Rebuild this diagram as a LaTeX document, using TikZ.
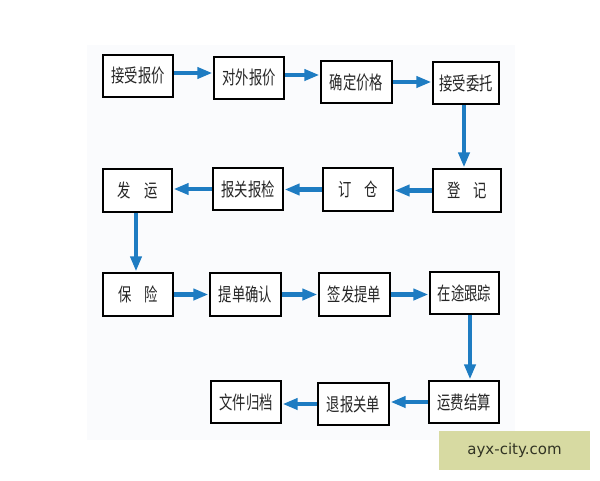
\documentclass[tikz,border=0pt]{standalone}
\usepackage{fontspec}
\newfontfamily\cjk{Noto Sans CJK SC}
\setsansfont{DejaVu Sans}
\usetikzlibrary{arrows.meta}
\definecolor{flowblue}{RGB}{30,124,194}
\definecolor{panel}{RGB}{250,251,253}
\definecolor{wmbox}{RGB}{215,218,162}
\definecolor{wmtext}{RGB}{50,52,36}
\newcommand{\boxtxt}[1]{\scalebox{0.72}[1]{#1}}
\tikzset{
  stepbox/.style={draw=black, line width=2.2pt, fill=white, minimum width=70pt, minimum height=42pt, inner sep=0pt,
    font=\cjk\fontsize{18.5pt}{20pt}\selectfont, text=black!85},
  flow/.style={draw=flowblue, line width=4.5pt, -{Triangle[width=11pt,length=15pt]}, shorten >=0.5pt}
}
\begin{document}
\begin{tikzpicture}[x=1pt,y=-1pt]
\useasboundingbox (0,0) rectangle (600,480);
\fill[white] (0,0) rectangle (600,480);
\fill[panel] (87,45) rectangle (515,440);
% row 1
\node[stepbox] (n1) at (138,76) {\boxtxt{接受报价}};
\node[stepbox] (n2) at (249,78) {\boxtxt{对外报价}};
\node[stepbox, minimum width=71pt] (n3) at (356.5,82) {\boxtxt{确定价格}};
\node[stepbox, minimum width=66pt] (n4) at (466,83) {\boxtxt{接受委托}};
% row 2
\node[stepbox, minimum width=68pt, minimum height=43pt] (n5) at (467,190.5) {\boxtxt{登\hspace{1em}记}};
\node[stepbox, minimum height=43pt] (n6) at (358,189.5) {\boxtxt{订\hspace{1em}仓}};
\node[stepbox] (n7) at (248,189) {\boxtxt{报关报检}};
\node[stepbox, minimum width=69pt, minimum height=43pt] (n8) at (137.5,190.5) {\boxtxt{发\hspace{1em}运}};
% row 3
\node[stepbox, minimum height=43pt] (n9) at (138,294.5) {\boxtxt{保\hspace{1em}险}};
\node[stepbox, minimum width=71pt, minimum height=43pt] (n10) at (245.5,294.5) {\boxtxt{提单确认}};
\node[stepbox, minimum width=71pt, minimum height=43pt] (n11) at (354.5,294.5) {\boxtxt{签发提单}};
\node[stepbox, minimum width=69pt] (n12) at (464.5,293) {\boxtxt{在途跟踪}};
% row 4
\node[stepbox] (n13) at (464,402) {\boxtxt{运费结算}};
\node[stepbox, minimum width=71pt] (n14) at (353.5,404) {\boxtxt{退报关单}};
\node[stepbox] (n15) at (246,402) {\boxtxt{文件归档}};
% connectors
\draw[flow] ([yshift=3pt]n1.east) -- ([yshift=3pt]n1.east -| n2.west);
\draw[flow] ([yshift=3pt]n2.east) -- ([yshift=3pt]n2.east -| n3.west);
\draw[flow] (n3.east) -- (n3.east -| n4.west);
\draw[flow] ([xshift=-2pt]n4.south) -- ([xshift=-2pt]n4.south |- n5.north);
\draw[flow] (n5.west) -- (n5.west -| n6.east);
\draw[flow] (n6.west) -- (n6.west -| n7.east);
\draw[flow] (n7.west) -- (n7.west -| n8.east);
\draw[flow] ([xshift=-1.5pt]n8.south) -- ([xshift=-1.5pt]n8.south |- n9.north);
\draw[flow] (n9.east) -- (n9.east -| n10.west);
\draw[flow] (n10.east) -- (n10.east -| n11.west);
\draw[flow] (n11.east) -- (n11.east -| n12.west);
\draw[flow] ([xshift=5.5pt]n12.south) -- ([xshift=5.5pt]n12.south |- n13.north);
\draw[flow] (n13.west) -- (n13.west -| n14.east);
\draw[flow] (n14.west) -- (n14.west -| n15.east);
% watermark
\node[fill=wmbox, minimum width=151pt, minimum height=39pt, inner sep=0pt, font=\sffamily\fontsize{15pt}{17pt}\selectfont, text=wmtext] (wm) at (514.5,450.5) {ayx-city.com};
\end{tikzpicture}
\end{document}
